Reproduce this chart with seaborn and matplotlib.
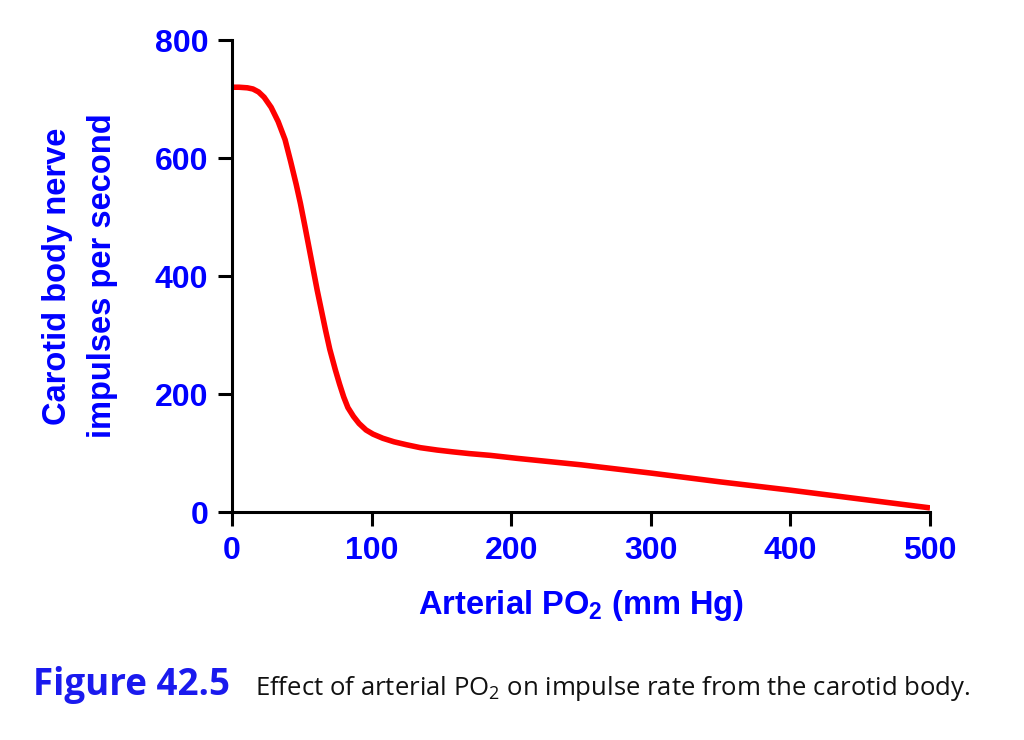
import matplotlib
matplotlib.use("Agg")
import matplotlib.pyplot as plt
import seaborn as sns
import pandas as pd

# values
po2 = [0, 5, 11, 15, 19, 23, 28, 33, 38, 42, 46, 49, 52, 55, 58, 61, 64, 67,
       70, 74, 77, 80, 83, 87, 91, 96, 101, 108, 116, 125, 135, 147, 158, 170,
       185, 204, 250, 300, 350, 400, 450, 500]
impulses = [720, 720, 719, 717, 712, 703, 686, 662, 631, 594, 555, 523, 487,
            450, 413, 376, 342, 308, 276, 241, 217, 195, 177, 162, 150, 139,
            132, 125, 119, 114, 109, 105, 102, 99, 96, 91, 80, 66, 51, 37, 22,
            7]

x_ticks = [0, 100, 200, 300, 400, 500]
y_ticks = [0, 200, 400, 600, 800]

df = pd.DataFrame({"po2": po2, "impulses": impulses})

sns.set_style("ticks")
plt.rcParams["font.family"] = ["Liberation Sans", "DejaVu Sans"]
plt.rcParams["mathtext.fontset"] = "custom"
plt.rcParams["mathtext.rm"] = "Open Sans"
plt.rcParams["mathtext.bf"] = "Liberation Sans:bold"

fig = plt.figure(figsize=(10.24, 7.4), dpi=100)
ax = fig.add_axes([0.2266, 0.3081, 0.6816, 0.6378])

sns.lineplot(data=df, x="po2", y="impulses", ax=ax, color="#ff0000",
             linewidth=4.0, solid_capstyle="butt", solid_joinstyle="round")

ax.set_xlim(0, 500)
ax.set_ylim(0, 800)
ax.set_xticks(x_ticks)
ax.set_yticks(y_ticks)
ax.tick_params(axis="both", direction="out", length=10, width=2.2,
               labelsize=23, labelcolor="blue", color="black")
ax.tick_params(axis="x", pad=7)
ax.tick_params(axis="y", pad=7)
for lab in ax.get_xticklabels() + ax.get_yticklabels():
    lab.set_fontweight("bold")

sns.despine(ax=ax)
for side in ["left", "bottom"]:
    ax.spines[side].set_linewidth(2.2)
    ax.spines[side].set_color("black")
ax.spines["left"].set_zorder(3)

ax.set_xlabel(r"Arterial PO$_\mathbf{2}$ (mm Hg)", fontsize=23.5,
              fontweight="bold", color="blue")
ax.xaxis.set_label_coords(0.5, -0.16)
ax.set_ylabel("Carotid body nerve\nimpulses per second", fontsize=23.5,
              fontweight="bold", color="blue", linespacing=1.55)
ax.yaxis.set_label_coords(-0.164, 0.5)

fig.text(33 / 1024, 0.061, "Figure 42.5", fontsize=26.5, fontweight="bold",
         color="#1a1aee", family=["Open Sans", "DejaVu Sans"], va="baseline")
fig.text(255 / 1024, 0.061,
         r"Effect of arterial PO$_\mathrm{2}$ on impulse rate from the carotid body.",
         fontsize=18.5, color="#111111", family=["Open Sans", "DejaVu Sans"],
         va="baseline")

fig.savefig("out.png", dpi=100, facecolor="white")
